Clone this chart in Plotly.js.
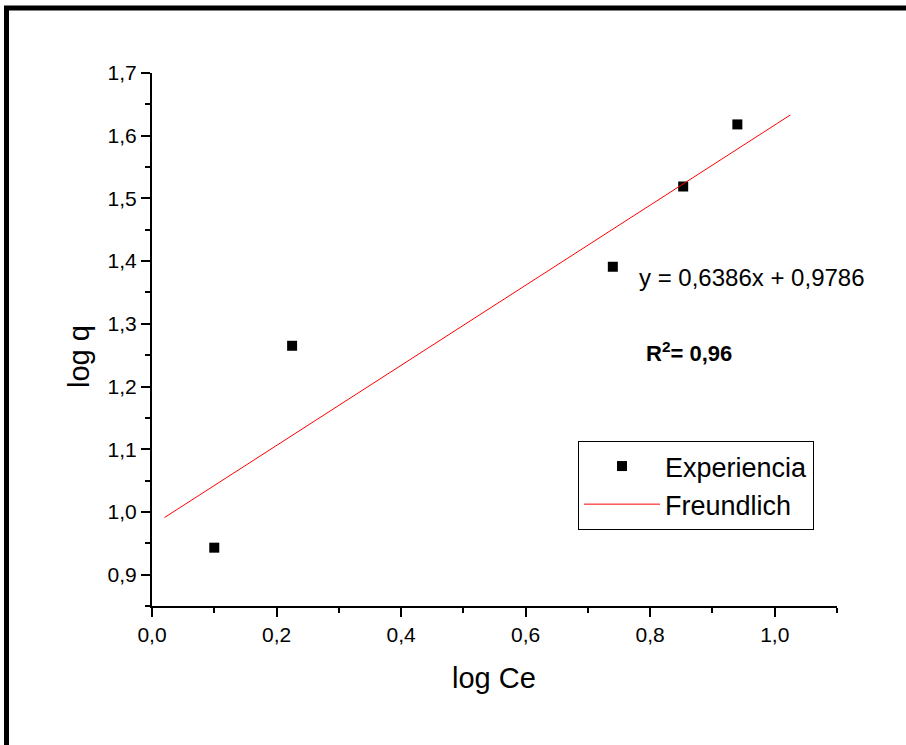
<!DOCTYPE html>
<html>
<head>
<meta charset="utf-8">
<script src="https://cdn.plot.ly/plotly-3.0.1.min.js"></script>
<style>html,body{margin:0;padding:0;background:#fff;}#chart{width:906px;height:745px;}</style>
</head>
<body>
<div id="chart"></div>
<script>
// Data
const expX = [0.100, 0.225, 0.740, 0.853, 0.940];
const expY = [0.943, 1.265, 1.391, 1.519, 1.618];
const fitX = [0.020, 1.025];
const fitY = [0.991, 1.633];
const xTickLabels = ['0,0','0,2','0,4','0,6','0,8','1,0'];
const yTickLabels = ['0,9','1,0','1,1','1,2','1,3','1,4','1,5','1,6','1,7'];
const eqText = 'y = 0,6386x + 0,9786';
const r2Text = '<b>R<sup>2</sup>= 0,96</b>';

// layout geometry (pixels)
const W = 906, H = 745;
const L = 152, R = 69, T = 73, B = 139;
const pw = W - L - R, ph = H - T - B;
const px = v => (v - L) / pw;
const py = v => (H - B - v) / ph;

const font = 'Arial, "Liberation Sans", sans-serif';

const traces = [
  {x: expX, y: expY, type: 'scatter', mode: 'markers', name: 'Experiencia',
   marker: {symbol: 'square', size: 10, color: '#000'}, legendgroup: 'a'},
  {x: fitX, y: fitY, type: 'scatter', mode: 'lines', name: 'Freundlich',
   line: {color: '#ff0000', width: 1}, legendgroup: 'b'}
];

const axisCommon = {
  showline: true, linecolor: '#000', linewidth: 2, mirror: false,
  ticks: 'outside', ticklen: 9, tickwidth: 2, tickcolor: '#000',
  showgrid: false, zeroline: false,
  tickfont: {family: font, size: 21, color: '#000'}
};

const layout = {
  width: W, height: H,
  margin: {l: L, r: R, t: T, b: B, pad: 0},
  paper_bgcolor: '#fff', plot_bgcolor: '#fff',
  separators: ',.',
  showlegend: true,
  font: {family: font, color: '#000'},
  xaxis: Object.assign({}, axisCommon, {
    range: [0, 1.1], tickmode: 'array', tickvals: [0,0.2,0.4,0.6,0.8,1.0], ticktext: xTickLabels,
    minor: {ticks: 'outside', ticklen: 5, tickwidth: 2, tickcolor: '#000', dtick: 0.1, tick0: 0}
  }),
  yaxis: Object.assign({}, axisCommon, {
    range: [0.85, 1.7], tickmode: 'array', tickvals: [0.9,1.0,1.1,1.2,1.3,1.4,1.5,1.6,1.7], ticktext: yTickLabels,
    minor: {ticks: 'outside', ticklen: 5, tickwidth: 2, tickcolor: '#000', dtick: 0.05, tick0: 0.85}
  }),
  legend: {
    x: px(578), y: py(441), xanchor: 'left', yanchor: 'top',
    bordercolor: '#000', borderwidth: 1, bgcolor: '#fff',
    font: {family: font, size: 27, color: '#000'},
    itemwidth: 76, tracegroupgap: 6, traceorder: 'normal'
  },
  annotations: [
    {xref: 'paper', yref: 'paper', x: px(494), y: py(678), text: 'log Ce', showarrow: false,
     font: {family: font, size: 29, color: '#000'}, xanchor: 'center', yanchor: 'middle'},
    {xref: 'paper', yref: 'paper', x: px(79), y: py(357), text: 'log q', showarrow: false, textangle: -90,
     font: {family: font, size: 29, color: '#000'}, xanchor: 'center', yanchor: 'middle'},
    {xref: 'paper', yref: 'paper', x: px(637), y: py(277), text: eqText, showarrow: false,
     font: {family: font, size: 24, color: '#000'}, xanchor: 'left', yanchor: 'middle'},
    {xref: 'paper', yref: 'paper', x: px(644), y: py(352), text: r2Text, showarrow: false,
     font: {family: font, size: 22, color: '#000'}, xanchor: 'left', yanchor: 'middle'}
  ],
  shapes: [
    {type: 'line', xref: 'paper', yref: 'paper', x0: px(4), x1: px(906), y0: py(8), y1: py(8),
     line: {color: '#000', width: 5}},
    {type: 'line', xref: 'paper', yref: 'paper', x0: px(6.5), x1: px(6.5), y0: py(6), y1: py(745),
     line: {color: '#000', width: 5}}
  ]
};

Plotly.newPlot('chart', traces, layout, {displayModeBar: false, staticPlot: true});
</script>
</body>
</html>
